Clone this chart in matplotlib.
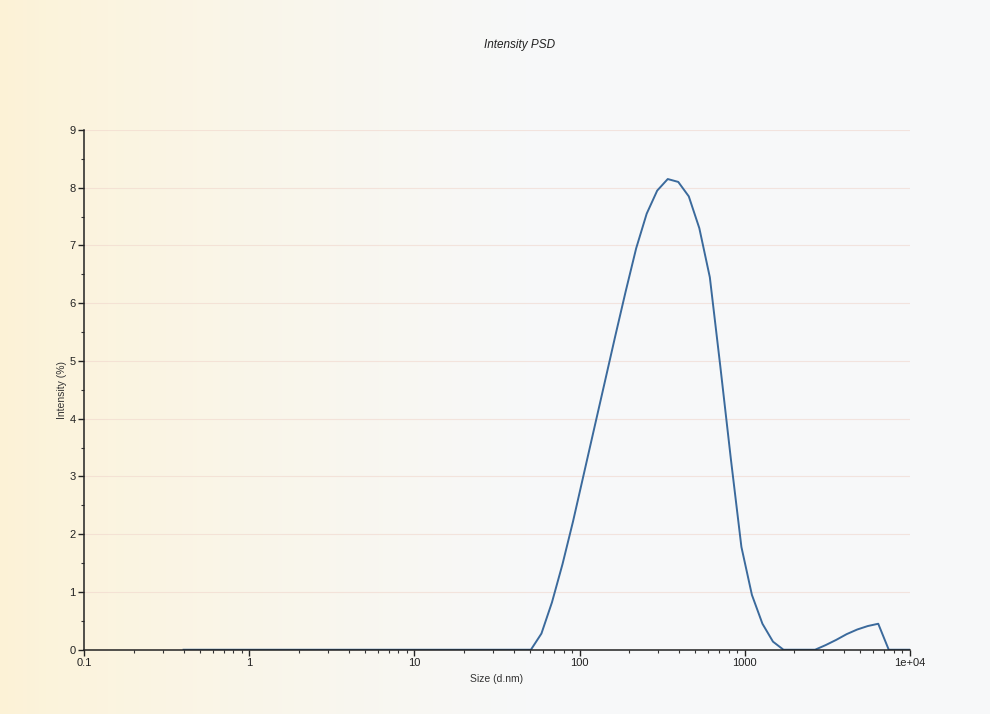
#!/usr/bin/env python3
"""
Intensity PSD (DLS size distribution) redrawn from a screen photo.
"""
import matplotlib
matplotlib.use('Agg')
import matplotlib.pyplot as plt
from matplotlib.ticker import FixedLocator, FixedFormatter, LogLocator, NullFormatter
import numpy as np

# Size classes (d.nm) and intensity (%)
sizes = [
    0.4, 0.4632, 0.5365, 0.6213, 0.7195, 0.8332, 0.9649, 1.117, 1.294, 1.499,
    1.736, 2.010, 2.328, 2.696, 3.122, 3.615, 4.187, 4.849, 5.615, 6.503,
    7.531, 8.721, 10.10, 11.70, 13.54, 15.69, 18.17, 21.04, 24.36, 28.21,
    32.67, 37.84, 43.82, 50.75, 58.77, 68.06, 78.82, 91.28, 105.7, 122.4,
    141.8, 164.2, 190.1, 220.2, 255.0, 295.3, 342.0, 396.1, 458.7, 531.2,
    615.1, 712.4, 825.0, 955.4, 1106, 1281, 1484, 1718, 1990, 2305,
    2669, 3091, 3580, 4145, 4801, 5560, 6439, 7456, 8635, 10000,
]
intensity = [
    0, 0, 0, 0, 0, 0, 0, 0, 0, 0,
    0, 0, 0, 0, 0, 0, 0, 0, 0, 0,
    0, 0, 0, 0, 0, 0, 0, 0, 0, 0,
    0, 0, 0, 0, 0.28, 0.82, 1.48, 2.22, 3.02, 3.82,
    4.62, 5.42, 6.2, 6.95, 7.55, 7.95, 8.15, 8.1, 7.85, 7.3,
    6.45, 4.9, 3.3, 1.78, 0.95, 0.45, 0.14, 0, 0, 0,
    0, 0.08, 0.17, 0.27, 0.35, 0.41, 0.45, 0, 0, 0,
]

x_ticks = [0.1, 1, 10, 100, 1000, 10000]
x_tick_labels = ['0.1', '1', '10', '100', '1000', '1e+04']
y_ticks = [0, 1, 2, 3, 4, 5, 6, 7, 8, 9]

plt.rcParams['font.family'] = ['Liberation Sans', 'DejaVu Sans']

fig = plt.figure(figsize=(9.9, 7.14), dpi=100)

# photo-like background: warm cream on the left fading to white
bg = fig.add_axes([0, 0, 1, 1], zorder=-10)
grad = np.linspace(0, 1, 256)
cream = np.array([0.99, 0.95, 0.84])
white = np.array([0.97, 0.975, 0.98])
w = np.clip(grad / 0.55, 0, 1)[None, :, None] ** 0.8
img = cream * (1 - w) + white * w
img = np.repeat(img, 2, axis=0)
bg.imshow(img, aspect='auto', extent=[0, 1, 0, 1])
bg.axis('off')

ax = fig.add_axes([0.085, 0.09, 0.834, 0.728])
ax.patch.set_alpha(0)

ax.plot(sizes, intensity, color='#3b6a9c', linewidth=1.4)

ax.set_xscale('log')
ax.set_xlim(0.1, 10000)
ax.set_ylim(0, 9)

ax.xaxis.set_major_locator(FixedLocator(x_ticks))
ax.xaxis.set_major_formatter(FixedFormatter(x_tick_labels))
ax.xaxis.set_minor_locator(LogLocator(base=10, subs=np.arange(2, 10)))
ax.xaxis.set_minor_formatter(NullFormatter())
ax.set_yticks(y_ticks)
ax.set_yticks(np.arange(0.5, 9, 1), minor=True)

for side in ('top', 'right'):
    ax.spines[side].set_visible(False)
for side in ('left', 'bottom'):
    ax.spines[side].set_color('#222222')
    ax.spines[side].set_linewidth(1.1)

ax.tick_params(axis='both', which='major', length=4, width=1, colors='#222222',
               labelsize=8, pad=2)
ax.tick_params(axis='both', which='minor', length=2, width=0.8, colors='#333333')

# faint screen grid
ax.grid(axis='y', which='major', color='#f0d6cc', linewidth=0.8, alpha=0.6)
ax.set_axisbelow(True)

ax.set_xlabel('Size (d.nm)', fontsize=7.5, color='#333333', labelpad=4)
ax.set_ylabel('Intensity (%)', fontsize=7.5, color='#333333', labelpad=2)
fig.text(0.525, 0.937, 'Intensity PSD', ha='center', va='center',
         fontsize=8.5, style='italic', color='#222222')

plt.savefig('out.png', dpi=100)
plt.close()
